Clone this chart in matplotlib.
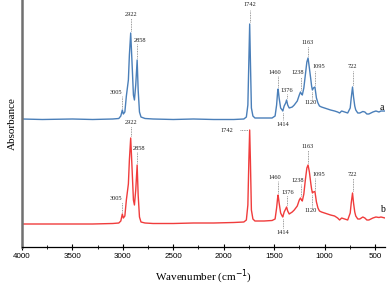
import matplotlib
matplotlib.use("Agg")
import matplotlib.pyplot as plt
from matplotlib.ticker import MultipleLocator

# wavenumber grid (cm-1) shared by both spectra
wavenumber = [4000, 3800, 3500, 3300, 3100, 3040, 3020, 3005, 2995, 2980,
              2965, 2955, 2945, 2935, 2922, 2910, 2895, 2885, 2872, 2858,
              2848, 2835, 2820, 2780, 2700, 2500, 2300, 2100, 1900, 1800,
              1775, 1760, 1750, 1742, 1735, 1725, 1710, 1690, 1600, 1520,
              1490, 1475, 1465, 1460, 1450, 1435, 1420, 1414, 1400, 1385,
              1376, 1365, 1350, 1320, 1300, 1270, 1250, 1238, 1228, 1220,
              1205, 1190, 1175, 1163, 1150, 1135, 1128, 1120, 1110, 1095,
              1080, 1065, 1050, 1030, 1000, 970, 940, 900, 870, 850,
              830, 800, 770, 745, 735, 722, 712, 700, 690, 670,
              650, 620, 600, 580, 560, 520, 490, 460, 440, 400]

# spectrum a (upper, offset)
absorb_a = [1.28, 1.275, 1.28, 1.275, 1.28, 1.285, 1.31, 1.37, 1.33, 1.35,
            1.51, 1.59, 1.67, 1.92, 2.14, 1.87, 1.52, 1.47, 1.62, 1.87,
            1.57, 1.35, 1.30, 1.285, 1.28, 1.275, 1.28, 1.275, 1.275, 1.28,
            1.30, 1.42, 1.87, 2.23, 1.87, 1.39, 1.31, 1.29, 1.29, 1.29,
            1.31, 1.42, 1.55, 1.58, 1.49, 1.39, 1.37, 1.36, 1.41, 1.44,
            1.47, 1.42, 1.39, 1.40, 1.42, 1.46, 1.52, 1.55, 1.53, 1.52,
            1.59, 1.72, 1.85, 1.89, 1.79, 1.67, 1.61, 1.57, 1.59, 1.60,
            1.49, 1.44, 1.41, 1.40, 1.39, 1.38, 1.37, 1.36, 1.35, 1.34,
            1.36, 1.35, 1.34, 1.39, 1.49, 1.60, 1.50, 1.41, 1.37, 1.34,
            1.34, 1.355, 1.35, 1.33, 1.33, 1.35, 1.36, 1.35, 1.36, 1.36]

# spectrum b (lower)
absorb_b = [0.23, 0.23, 0.23, 0.23, 0.235, 0.24, 0.26, 0.33, 0.29, 0.31,
            0.47, 0.55, 0.63, 0.87, 1.09, 0.82, 0.47, 0.42, 0.57, 0.82,
            0.52, 0.30, 0.25, 0.24, 0.235, 0.235, 0.24, 0.24, 0.245, 0.25,
            0.27, 0.42, 0.87, 1.17, 0.87, 0.37, 0.28, 0.26, 0.26, 0.265,
            0.28, 0.39, 0.49, 0.52, 0.44, 0.34, 0.31, 0.30, 0.35, 0.38,
            0.40, 0.36, 0.33, 0.35, 0.37, 0.41, 0.47, 0.49, 0.47, 0.46,
            0.53, 0.67, 0.79, 0.82, 0.75, 0.63, 0.58, 0.54, 0.55, 0.555,
            0.45, 0.39, 0.36, 0.35, 0.34, 0.33, 0.32, 0.31, 0.29, 0.27,
            0.29, 0.28, 0.27, 0.34, 0.44, 0.54, 0.44, 0.35, 0.31, 0.28,
            0.28, 0.30, 0.29, 0.27, 0.27, 0.29, 0.30, 0.295, 0.30, 0.29]

# peak labels: (label, text x, text y, dotted line from y, to y)
peaks_a = [("3005", 3070, 1.55, 1.39, 1.51),
           ("2922", 2922, 2.32, 2.16, 2.29),
           ("2858", 2829, 2.07, 1.89, 2.03),
           ("1742", 1742, 2.42, 2.25, 2.37),
           ("1460", 1490, 1.75, 1.60, 1.71),
           ("1376", 1374, 1.57, 1.49, 1.53),
           ("1238", 1262, 1.74, 1.57, 1.70),
           ("1163", 1163, 2.05, 1.91, 2.01),
           ("1095", 1056, 1.80, 1.62, 1.76),
           ("1120", 1140, 1.44, 1.55, 1.48),
           ("1414", 1410, 1.23, 1.34, 1.27),
           ("722", 722, 1.80, 1.62, 1.76)]

peaks_b = [("3005", 3070, 0.49, 0.35, 0.45),
           ("2922", 2922, 1.25, 1.11, 1.21),
           ("2858", 2835, 0.99, 0.84, 0.95),
           ("1460", 1490, 0.695, 0.54, 0.66),
           ("1376", 1364, 0.55, 0.42, 0.52),
           ("1238", 1265, 0.67, 0.51, 0.63),
           ("1163", 1163, 1.01, 0.84, 0.97),
           ("1095", 1058, 0.73, 0.575, 0.69),
           ("1120", 1140, 0.36, 0.52, 0.40),
           ("1414", 1410, 0.15, 0.28, 0.19),
           ("722", 722, 0.73, 0.56, 0.69)]

color_a = "#4a7fb9"
color_b = "#f03c3c"
dot_color = "#7a7a7a"
serif = ["Liberation Serif", "DejaVu Serif"]
sans = ["Liberation Sans", "DejaVu Sans"]

fig = plt.figure(figsize=(3.87, 2.86), dpi=100)
ax = fig.add_axes([22 / 387, 1 - 247 / 286, 363 / 387, 247 / 286])

ax.plot(wavenumber, absorb_a, color=color_a, lw=1.0)
ax.plot(wavenumber, absorb_b, color=color_b, lw=1.0)


def label_peaks(peaks):
    for text, tx, ty, y0, y1 in peaks:
        wn = float(text)
        ax.plot([wn, wn], [y0, y1], ls=(0, (1, 1)), color=dot_color, lw=0.6)
        ax.text(tx, ty, text, ha="center", va="center", fontsize=4.6,
                family=serif, color="#222222")


label_peaks(peaks_a)
label_peaks(peaks_b)

# 1742 on spectrum b is labelled from the side
ax.plot([1837, 1758], [1.17, 1.17], ls=(0, (1, 1)), color=dot_color, lw=0.6)
ax.text(1969, 1.17, "1742", ha="center", va="center", fontsize=4.6,
        family=serif, color="#222222")

ax.text(429, 1.40, "a", ha="center", va="center", fontsize=7, family=serif)
ax.text(429, 0.38, "b", ha="center", va="center", fontsize=7, family=serif)

ax.set_xlim(4000, 400)
ax.set_ylim(0, 2.47)
ax.xaxis.set_major_locator(MultipleLocator(500))
ax.xaxis.set_minor_locator(MultipleLocator(250))
ax.set_yticks([])
ax.tick_params(axis="x", which="major", direction="inout", length=4,
               width=0.8, labelsize=5.8, pad=2)
ax.tick_params(axis="x", which="minor", direction="inout", length=2.5,
               width=0.6)
for lab in ax.get_xticklabels():
    lab.set_family(sans)

ax.spines["top"].set_visible(False)
ax.spines["right"].set_visible(False)
ax.spines["left"].set_color("#707070")
ax.spines["left"].set_linewidth(1.8)
ax.spines["bottom"].set_linewidth(0.9)

ax.set_xlabel("Wavenumber (cm$^{-1}$)", family=serif, fontsize=8, labelpad=6)
ax.set_ylabel("Absorbance", family=serif, fontsize=8, labelpad=4)

fig.savefig("out.png", dpi=100)
